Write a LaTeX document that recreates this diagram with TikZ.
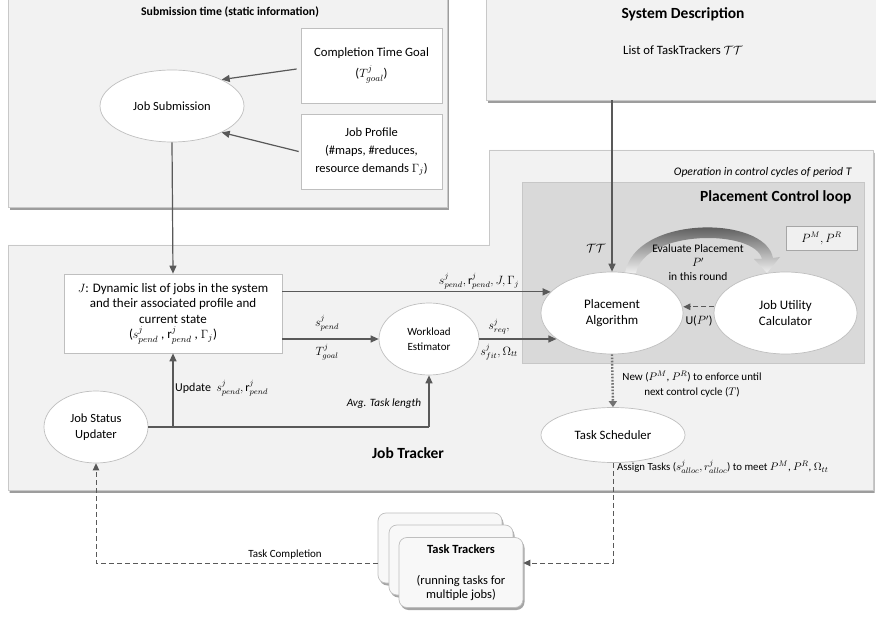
\documentclass[tikz,border=0pt]{standalone}
\usepackage{fontspec}
\setmainfont{Carlito}
\usetikzlibrary{arrows.meta,shapes.geometric,shadows,calc}

\definecolor{panel}{HTML}{F2F2F2}
\definecolor{panelline}{HTML}{C8C8C8}
\definecolor{loopfill}{HTML}{D9D9D9}
\definecolor{edge}{HTML}{595959}
\definecolor{nodeline}{HTML}{BFBFBF}

\begin{document}
\begin{tikzpicture}[x=1pt,y=-1pt,
  panelbox/.style={fill=panel, draw=panelline, line width=0.6pt,
    drop shadow={shadow xshift=1.5pt, shadow yshift=-3pt, fill=black!70, opacity=0.55}},
  ell/.style={ellipse, draw=nodeline, fill=white, line width=0.7pt, inner sep=0pt,
    align=center, font=\fontsize{12.5}{15}\selectfont},
  whitebox/.style={rectangle, draw=nodeline, fill=white, line width=0.7pt, inner sep=2pt,
    align=center, font=\fontsize{12.5}{18}\selectfont},
  card/.style={rectangle, rounded corners=8pt, draw=nodeline, fill=panel!50!white,
    line width=0.7pt, minimum width=124, minimum height=70, align=center,
    drop shadow={shadow xshift=1.5pt, shadow yshift=-2.5pt, fill=black!70, opacity=0.5}},
  lbl/.style={inner sep=0pt, font=\fontsize{12}{14}\selectfont, align=center},
  arr/.style={draw=edge, line width=1.2pt, -{Triangle[length=8pt,width=7pt]}},
  plain/.style={draw=edge, line width=1.2pt},
  dasharr/.style={draw=edge, line width=1pt, dash pattern=on 5pt off 3pt,
    -{Triangle[length=7pt,width=6.5pt]}},
  dotarr/.style={draw=edge!85, line width=2.4pt, dash pattern=on 1.6pt off 1.6pt,
    -{Triangle[length=6pt,width=8pt]}}
]
\useasboundingbox (0,0) rectangle (876,617);

% ---- background panels ----
\node[panelbox, minimum width=439, minimum height=217, inner sep=0] (subpanel) at (227.5,98.5) {};
\node[font=\bfseries\fontsize{11.8}{13}\selectfont] (subtitle) at (230,12) {Submission time (static information)};

\node[panelbox, minimum width=404, minimum height=110, inner sep=0] (sysdesc) at (688,45) {};
\node[font=\bfseries\fontsize{15.5}{17}\selectfont] (systitle) at (683,14) {System Description};
\node[font=\fontsize{12.7}{14}\selectfont] (syslist) at (683,50) {List of TaskTrackers $\mathcal{T}\mathcal{T}$};

% Job Tracker area (stepped outline)
\path[panelbox] (8,245) -- (489,245) -- (489,150) -- (873,150) -- (873,490) -- (8,490) -- cycle;
\node[font=\bfseries\fontsize{15.5}{17}\selectfont] (jttitle) at (408,453) {Job Tracker};
\node[anchor=east, font=\itshape\fontsize{11.6}{13}\selectfont] (period) at (855,172)
  {Operation in control cycles of period T};

% Placement control loop area
\path[fill=loopfill, draw=black!22, line width=0.6pt] (522,182) rectangle (864,363);
\node[anchor=east, font=\bfseries\fontsize{15.5}{17}\selectfont] (looptitle) at (855,197) {Placement Control loop};
\node[rectangle, draw=black!35, fill=black!6, line width=0.6pt, minimum width=71,
  minimum height=24, inner sep=0pt, font=\fontsize{12}{13}\selectfont] (pmpr) at (821.5,238.5) {$P^M, P^R$};

% shaded evaluation arc
\shade[top color=black!78, bottom color=black!6]
  (625,273) .. controls (635,215) and (765,215) .. (773,258)
  -- (780,257) -- (767,273) -- (754,259) -- (762,259)
  .. controls (755,229) and (645,229) .. (636,273) -- cycle;
\node[lbl, font=\fontsize{11.5}{14}\selectfont] (evaltxt) at (698,263)
  {Evaluate Placement\\$P'$\\in this round};

% ---- submission nodes ----
\node[ell, minimum width=144, minimum height=72] (jobsub) at (172,106) {Job Submission};
\node[whitebox, minimum width=141, minimum height=75, font=\fontsize{12.7}{21}\selectfont]
  (goal) at (371.5,65.5) {Completion Time Goal\\($T^j_{goal}$)};
\node[whitebox, minimum width=141, minimum height=75] (profile) at (371.5,151.5)
  {Job Profile\\(\#maps, \#reduces,\\resource demands $\Gamma_j$)};

% ---- job tracker nodes ----
\node[whitebox, minimum width=218, minimum height=79, font=\fontsize{13}{15.5}\selectfont]
  (jlist) at (173,313.5)
  {$J$: Dynamic list of jobs in the system\\and their associated profile and\\current state\\
   ($s^j_{pend}$ , $\mathrm{r}^j_{pend}$ , $\Gamma_j$)};
\node[ell, minimum width=104, minimum height=72, font=\fontsize{12.5}{16}\selectfont] (jsu) at (96,427) {Job Status\\Updater};
\node[ell, minimum width=100, minimum height=72, font=\fontsize{11}{15}\selectfont] (wle) at (429,339) {Workload\\Estimator};
\node[ell, minimum width=142, minimum height=82, font=\fontsize{13}{15.5}\selectfont] (palg) at (612,313) {Placement\\Algorithm};
\node[ell, minimum width=143, minimum height=82, font=\fontsize{13}{15.5}\selectfont] (jcalc) at (785.5,313) {Job Utility\\Calculator};
\node[ell, minimum width=144, minimum height=55, font=\fontsize{12.8}{15}\selectfont] (tsched) at (613,435) {Task Scheduler};

% ---- task tracker cards ----
\node[card] (card3) at (440,548) {};
\node[card] (card2) at (451,560) {};
\node[card, font=\fontsize{12.5}{14}\selectfont] (card1) at (461,572.5)
  {\textbf{Task Trackers}\\[17pt](running tasks for\\multiple jobs)};

% ---- connectors ----
\draw[arr] ([xshift=-4pt,yshift=-3.5pt]goal.west) -- (jobsub.28);
\draw[arr] ([xshift=-2pt]profile.west) -- (jobsub.-28);
\draw[arr] (jobsub.south) -- (jlist.north);
\draw[arr] (palg.north |- sysdesc.south) -- (palg.north);
\node[lbl] (ttlbl) at (596,248) {$\mathcal{T}\mathcal{T}$};

\draw[arr] (jlist.east |- palg.161) -- (palg.161);
\node[lbl, anchor=south] (toplbl) at (479,289) {$s^j_{pend}, \mathrm{r}^j_{pend}, J, \Gamma_j$};

\draw[arr] (jlist.east |- wle.west) -- (wle.west);
\node[lbl] (spendlbl) at (327,323) {$s^j_{pend}$};
\node[lbl] (tgoallbl) at (327,352) {$T^j_{goal}$};

\draw[arr] (wle.east) -- (wle.east -| palg.205);
\node[lbl, anchor=south] (sreqlbl) at (499,334) {$s^j_{req},$};
\node[lbl, anchor=north] (sfitlbl) at (499,344) {$s^j_{fit}, \Omega_{tt}$};

\draw[plain] (jsu.east) -- (wle.south |- jsu.east);
\draw[arr] (wle.south |- jsu.east) -- (wle.south);
\draw[arr] (jlist.south |- jsu.east) -- (jlist.south);
\node[lbl, anchor=west] (updlbl) at (175,388) {Update\ \ $s^j_{pend}, \mathrm{r}^j_{pend}$};
\node[lbl, font=\itshape\fontsize{11.2}{13}\selectfont] (avglbl) at (384,404) {Avg. Task length};

\draw[dasharr] (jcalc.175) -- (jcalc.175 -| palg.east);
\node[lbl] (ulbl) at (699,321) {U($P'$)};

\draw[dotarr] (palg.south) -- (tsched.north);
\node[lbl, font=\fontsize{11}{15}\selectfont] (newlbl) at (692,384)
  {New ($P^M$, $P^R$) to enforce until\\next control cycle ($T$)};

\draw[dasharr] (tsched.south) -- ([yshift=9.5pt]tsched.south |- card1.east) -- ([yshift=9.5pt]card1.east);
\node[lbl, anchor=west, font=\fontsize{10.8}{12}\selectfont] (assignlbl) at (617,467)
  {Assign Tasks ($s^j_{alloc}, r^j_{alloc}$) to meet $P^M$, $P^R$, $\Omega_{tt}$};

\draw[dasharr] ([yshift=-15pt]card3.west) -| (jsu.south);
\node[lbl, font=\fontsize{11}{12}\selectfont] (donelbl) at (285,555) {Task Completion};
\end{tikzpicture}
\end{document}
